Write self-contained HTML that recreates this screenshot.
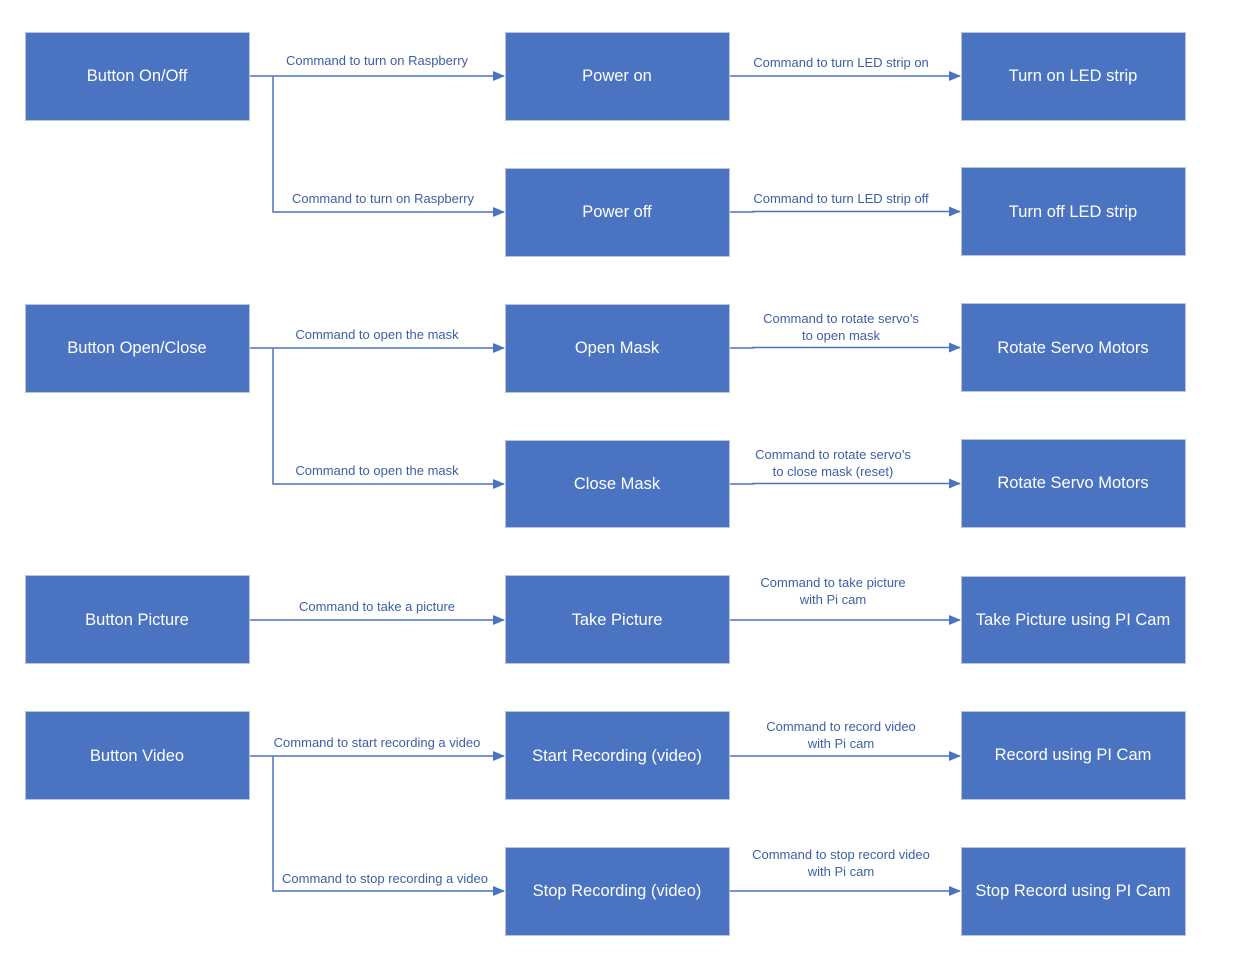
<!DOCTYPE html>
<html><head><meta charset="utf-8"><style>
html,body{margin:0;padding:0;background:#fff;}
svg{display:block;}
.b{fill:#4a73c1;stroke:#b8c4d8;stroke-width:1;}
.t{fill:#fff;font-family:"Liberation Sans",sans-serif;font-size:16.5px;text-anchor:middle;dominant-baseline:central;}
.l{fill:#3b5fa8;font-family:"Liberation Sans",sans-serif;font-size:13px;text-anchor:middle;}
.c{stroke:#4a73c1;stroke-width:1.5;fill:none;}
.a{fill:#4a73c1;}
</style></head><body>
<svg width="1244" height="958" viewBox="0 0 1244 958" xmlns="http://www.w3.org/2000/svg">
<defs><marker id="m" markerWidth="12" markerHeight="10" refX="11" refY="5" orient="auto" markerUnits="userSpaceOnUse"><path d="M0,0 L12,5 L0,10 Z" class="a"/></marker></defs>
<g>
<rect class="b" x="25.5" y="32.5" width="224" height="88"/><text class="t" x="137" y="76">Button On/Off</text>
<rect class="b" x="505.5" y="32.5" width="224" height="88"/><text class="t" x="617" y="76">Power on</text>
<rect class="b" x="961.5" y="32.5" width="224" height="88"/><text class="t" x="1073" y="76">Turn on LED strip</text>
<rect class="b" x="505.5" y="168.5" width="224" height="88"/><text class="t" x="617" y="212">Power off</text>
<rect class="b" x="961.5" y="167.5" width="224" height="88"/><text class="t" x="1073" y="212">Turn off LED strip</text>
<rect class="b" x="25.5" y="304.5" width="224" height="88"/><text class="t" x="137" y="348">Button Open/Close</text>
<rect class="b" x="505.5" y="304.5" width="224" height="88"/><text class="t" x="617" y="348">Open Mask</text>
<rect class="b" x="961.5" y="303.5" width="224" height="88"/><text class="t" x="1073" y="348">Rotate Servo Motors</text>
<rect class="b" x="505.5" y="440.5" width="224" height="87"/><text class="t" x="617" y="484">Close Mask</text>
<rect class="b" x="961.5" y="439.5" width="224" height="88"/><text class="t" x="1073" y="483">Rotate Servo Motors</text>
<rect class="b" x="25.5" y="575.5" width="224" height="88"/><text class="t" x="137" y="620">Button Picture</text>
<rect class="b" x="505.5" y="575.5" width="224" height="88"/><text class="t" x="617" y="620">Take Picture</text>
<rect class="b" x="961.5" y="576.5" width="224" height="87"/><text class="t" x="1073" y="620">Take Picture using PI Cam</text>
<rect class="b" x="25.5" y="711.5" width="224" height="88"/><text class="t" x="137" y="756">Button Video</text>
<rect class="b" x="505.5" y="711.5" width="224" height="88"/><text class="t" x="617" y="756">Start Recording (video)</text>
<rect class="b" x="961.5" y="711.5" width="224" height="88"/><text class="t" x="1073" y="755">Record using PI Cam</text>
<rect class="b" x="505.5" y="847.5" width="224" height="88"/><text class="t" x="617" y="891">Stop Recording (video)</text>
<rect class="b" x="961.5" y="847.5" width="224" height="88"/><text class="t" x="1073" y="891">Stop Record using PI Cam</text>
</g>
<path class="c" d="M250,76 H504" marker-end="url(#m)"/>
<path class="c" d="M273,76 V212 H504" marker-end="url(#m)"/>
<path class="c" d="M730,76 H960" marker-end="url(#m)"/>
<path class="c" d="M730,212 H753 V211.5 H960" marker-end="url(#m)"/>
<path class="c" d="M250,348 H504" marker-end="url(#m)"/>
<path class="c" d="M273,348 V484 H504" marker-end="url(#m)"/>
<path class="c" d="M730,348 H753 V347.5 H960" marker-end="url(#m)"/>
<path class="c" d="M730,484 H753 V483.5 H960" marker-end="url(#m)"/>
<path class="c" d="M250,620 H504" marker-end="url(#m)"/>
<path class="c" d="M730,620 H960" marker-end="url(#m)"/>
<path class="c" d="M250,756 H504" marker-end="url(#m)"/>
<path class="c" d="M273,756 V891 H504" marker-end="url(#m)"/>
<path class="c" d="M730,756 H960" marker-end="url(#m)"/>
<path class="c" d="M730,891 H960" marker-end="url(#m)"/>
<text class="l" x="377" y="65">Command to turn on Raspberry</text>
<text class="l" x="841" y="67">Command to turn LED strip on</text>
<text class="l" x="383" y="203">Command to turn on Raspberry</text>
<text class="l" x="841" y="203">Command to turn LED strip off</text>
<text class="l" x="377" y="339">Command to open the mask</text>
<text class="l" x="841" y="323">Command to rotate servo’s</text>
<text class="l" x="841" y="340">to open mask</text>
<text class="l" x="377" y="475">Command to open the mask</text>
<text class="l" x="833" y="459">Command to rotate servo’s</text>
<text class="l" x="833" y="476">to close mask (reset)</text>
<text class="l" x="377" y="611">Command to take a picture</text>
<text class="l" x="833" y="587">Command to take picture</text>
<text class="l" x="833" y="604">with Pi cam</text>
<text class="l" x="377" y="747">Command to start recording a video</text>
<text class="l" x="841" y="731">Command to record video</text>
<text class="l" x="841" y="748">with Pi cam</text>
<text class="l" x="385" y="883">Command to stop recording a video</text>
<text class="l" x="841" y="859">Command to stop record video</text>
<text class="l" x="841" y="876">with Pi cam</text>
</svg>
</body></html>
